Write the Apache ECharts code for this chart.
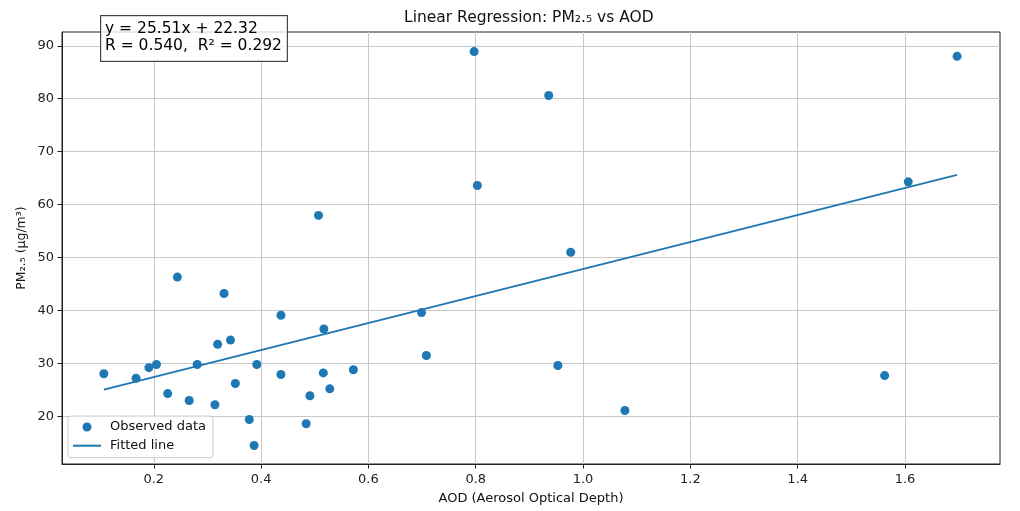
<!DOCTYPE html>
<html>
<head>
<meta charset="utf-8">
<script src="https://cdn.jsdelivr.net/npm/echarts@6/dist/echarts.min.js"></script>
<style>
html, body { margin: 0; padding: 0; background: #fff; }
#main { width: 1020px; height: 511px; }
</style>
</head>
<body>
<div id="main"></div>
<script>
// 观测数据 (AOD, PM2.5)
var aod = [0.107, 0.167, 0.191, 0.205, 0.226, 0.244, 0.266, 0.281, 0.314, 0.319, 0.331, 0.343,
           0.352, 0.378, 0.387, 0.392, 0.437, 0.437, 0.484, 0.491, 0.507, 0.516, 0.517, 0.528,
           0.572, 0.699, 0.708, 0.797, 0.803, 0.936, 0.953, 0.977, 1.078, 1.562, 1.606, 1.697];
var pm25 = [28.05, 27.2, 29.2, 29.8, 24.3, 46.3, 23.0, 29.8, 22.2, 33.6, 43.2, 34.4,
            26.2, 19.4, 14.5, 29.8, 39.1, 27.9, 18.6, 23.9, 57.95, 28.2, 36.5, 25.2,
            28.8, 39.6, 31.5, 88.9, 63.6, 80.6, 29.6, 51.0, 21.1, 27.7, 64.3, 88.0];
// 拟合直线两端
var fitX = [0.107, 1.697];
var fitY = [25.05, 65.61];
// 刻度
var xTicks = [0.2, 0.4, 0.6, 0.8, 1.0, 1.2, 1.4, 1.6];
var yTicks = [20, 30, 40, 50, 60, 70, 80, 90];
var statText = 'y = 25.51x + 22.32\nR = 0.540,  R\u00b2 = 0.292';

var FONT = 'DejaVu Sans';
var chart = echarts.init(document.getElementById('main'));

var scatterData = [];
for (var i = 0; i < aod.length; i++) {
    scatterData.push([aod[i], pm25[i]]);
}
var lineData = [];
for (var j = 0; j < fitX.length; j++) {
    lineData.push([fitX[j], fitY[j]]);
}

var option = {
    animation: false,
    title: {
        text: 'Linear Regression: PM\u2082.\u2085 vs AOD',
        left: 404,
        top: 10,
        padding: 0,
        textStyle: { fontFamily: FONT, fontSize: 15.5, fontWeight: 'normal', color: '#111' }
    },
    grid: {
        left: 62,
        right: 20,
        top: 32,
        bottom: 47,
        show: true,
        borderColor: '#222',
        borderWidth: 1,
        backgroundColor: 'transparent'
    },
    legend: {
        orient: 'vertical',
        left: 68,
        top: 416,
        padding: [4, 7, 5, 5],
        itemWidth: 28,
        itemHeight: 9,
        itemGap: 4.7,
        backgroundColor: 'rgba(255,255,255,0.8)',
        borderColor: '#cccccc',
        borderWidth: 1,
        borderRadius: 3,
        textStyle: { fontFamily: FONT, fontSize: 13, color: '#111', lineHeight: 14, padding: [0, 0, 0, 4] },
        data: [
            { name: 'Observed data', icon: 'circle' },
            { name: 'Fitted line', icon: 'path://M0,0H28V2H0Z' }
        ]
    },
    xAxis: {
        type: 'value',
        min: 0.029,
        max: 1.777,
        name: 'AOD (Aerosol Optical Depth)',
        nameLocation: 'middle',
        nameGap: 28,
        nameMoveOverlap: false,
        nameTextStyle: { fontFamily: FONT, fontSize: 13, color: '#111' },
        axisLine: { show: true, lineStyle: { color: '#222', width: 1 } },
        axisTick: { show: true, inside: false, length: 4.5, customValues: xTicks, lineStyle: { color: '#222' } },
        axisLabel: {
            customValues: xTicks,
            margin: 9,
            fontFamily: FONT,
            fontSize: 13,
            color: '#222',
            formatter: function (v) { return v.toFixed(1); }
        },
        splitLine: { show: true, lineStyle: { color: '#c8c8c8', width: 1 } }
    },
    yAxis: {
        type: 'value',
        min: 11.0,
        max: 92.6,
        name: 'PM\u2082.\u2085 (\u00b5g/m\u00b3)',
        nameLocation: 'middle',
        nameGap: 34,
        nameMoveOverlap: false,
        nameTextStyle: { fontFamily: FONT, fontSize: 12.5, color: '#111' },
        axisLine: { show: true, lineStyle: { color: '#222', width: 1 } },
        axisTick: { show: true, inside: false, length: 4.5, customValues: yTicks, lineStyle: { color: '#222' } },
        axisLabel: {
            customValues: yTicks,
            margin: 8,
            fontFamily: FONT,
            fontSize: 13,
            color: '#222'
        },
        splitLine: { show: true, lineStyle: { color: '#c8c8c8', width: 1 } }
    },
    series: [
        {
            name: 'Observed data',
            type: 'scatter',
            symbol: 'circle',
            symbolSize: 9,
            itemStyle: { color: '#1f77b4', opacity: 1 },
            z: 3,
            data: scatterData
        },
        {
            name: 'Fitted line',
            type: 'line',
            showSymbol: false,
            symbol: 'none',
            lineStyle: { color: '#1f77b4', width: 2 },
            itemStyle: { color: '#1f77b4' },
            z: 4,
            data: lineData
        }
    ],
    graphic: [
        {
            type: 'text',
            left: 100,
            top: 15,
            z: 100,
            style: {
                text: statText,
                font: '15.5px "DejaVu Sans"',
                fill: '#000',
                lineHeight: 17.5,
                backgroundColor: 'rgba(255,255,255,0.8)',
                borderColor: '#444',
                borderWidth: 1,
                padding: [4, 5, 6, 4]
            }
        }
    ]
};
chart.setOption(option);
</script>
</body>
</html>
